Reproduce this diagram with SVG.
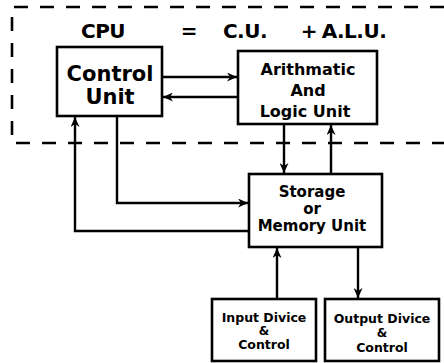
<svg xmlns="http://www.w3.org/2000/svg" width="444" height="363" viewBox="0 0 444 363">
<style>
.box{fill:#fff;stroke:#000;stroke-width:2.6}
.t{font-family:"DejaVu Sans",sans-serif;font-weight:bold;fill:#000;text-anchor:middle}
.h{font-size:20px;letter-spacing:-0.5px}
.c{fill:none;stroke:#000;stroke-width:2.4}
.dash{fill:none;stroke:#000;stroke-width:2.6;stroke-dasharray:14 12}
</style>
<defs>
<marker id="ah" markerUnits="userSpaceOnUse" markerWidth="11" markerHeight="9" refX="10" refY="4.5" orient="auto">
<path d="M0,0 L10,4.5 L0,9 L3,4.5 z" fill="#000"/>
</marker>
</defs>
<g id="cpu-boundary">
<path class="dash" d="M444,7 H12 V143 H444"/>
<text class="t h" x="103" y="38">CPU</text>
<text class="t h" x="189" y="38">=</text>
<text class="t h" x="245" y="38">C.U.</text>
<text class="t h" x="309" y="38">+</text>
<text class="t h" x="354" y="38">A.L.U.</text>
</g>
<g id="connectors">
<path class="c" d="M162,77 H237" marker-end="url(#ah)"/>
<path class="c" d="M238,97 H163" marker-end="url(#ah)"/>
<path class="c" d="M249,231 H75 V117" marker-end="url(#ah)"/>
<path class="c" d="M117,116 V203 H248" marker-end="url(#ah)"/>
<path class="c" d="M284,124 V173" marker-end="url(#ah)"/>
<path class="c" d="M331,174 V125" marker-end="url(#ah)"/>
<path class="c" d="M277,299 V248" marker-end="url(#ah)"/>
<path class="c" d="M358,247 V298" marker-end="url(#ah)"/>
</g>
<g id="control-unit">
<rect class="box" x="57" y="47" width="105" height="69"/>
<text class="t" x="110" y="81" font-size="21">Control</text>
<text class="t" x="110" y="104" font-size="21">Unit</text>
</g>
<g id="alu">
<rect class="box" x="238" y="51" width="139" height="73"/>
<text class="t" x="308" y="75" font-size="16">Arithmatic</text>
<text class="t" x="308" y="96" font-size="16">And</text>
<text class="t" x="305" y="117" font-size="16">Logic Unit</text>
</g>
<g id="storage">
<rect class="box" x="249" y="174" width="133" height="73"/>
<text class="t" x="312" y="197" font-size="15">Storage</text>
<text class="t" x="312" y="214" font-size="15">or</text>
<text class="t" x="312" y="231" font-size="15">Memory Unit</text>
</g>
<g id="input">
<rect class="box" x="212" y="299" width="104" height="62"/>
<text class="t" x="264" y="322" font-size="12.5">Input Divice</text>
<text class="t" x="264" y="335" font-size="12">&amp;</text>
<text class="t" x="264" y="349" font-size="12.5">Control</text>
</g>
<g id="output">
<rect class="box" x="325" y="299" width="114" height="62"/>
<text class="t" x="382" y="323" font-size="12.5">Output Divice</text>
<text class="t" x="382" y="337" font-size="12">&amp;</text>
<text class="t" x="382" y="352" font-size="12.5">Control</text>
</g>
</svg>
